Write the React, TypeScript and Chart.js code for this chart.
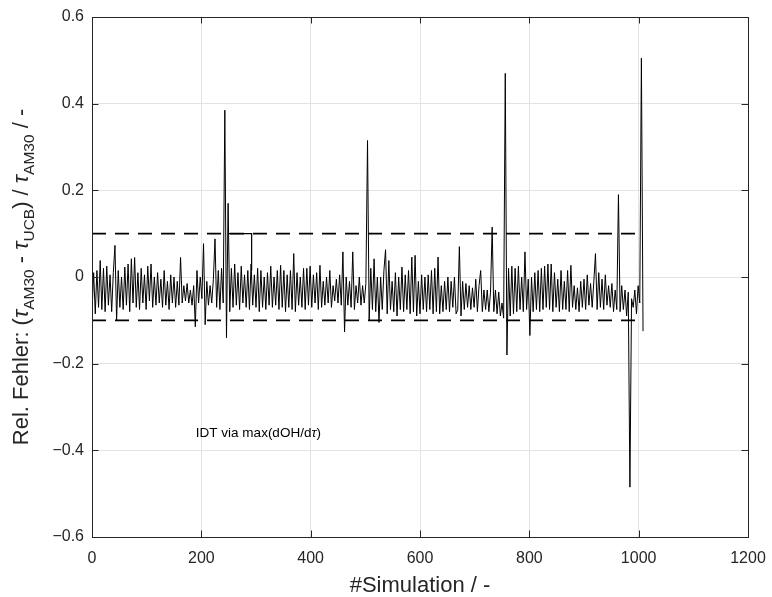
import React, { useEffect, useRef } from "react";
import { Chart, registerables } from "chart.js";

Chart.register(...registerables);

// Relative error, one sample every SIM_STEP simulations
const SIM_STEP = 3;
const relErr: number[] = [
  -0.08, 0.01, -0.085, 0.015, -0.07, 0.038, -0.075, 0.02, -0.08, 0.025,
  -0.065, 0.005, -0.08, 0.01, 0.073, -0.1, 0.015, -0.07, 0.0, -0.075,
  0.023, -0.065, 0.03, -0.08, 0.042, -0.06, 0.045, -0.07, 0.01, -0.075,
  0.02, -0.06, 0.005, -0.075, 0.025, -0.055, 0.03, -0.07, 0.0, -0.065,
  0.01, -0.06, -0.005, -0.07, 0.015, -0.065, -0.01, -0.075, 0.005, -0.06,
  0.0, -0.07, -0.01, -0.065, 0.045, -0.06, -0.02, -0.055, -0.015, -0.06,
  -0.03, -0.065, -0.02, -0.115, 0.015, -0.06, 0.0, -0.05, 0.077, -0.11,
  -0.01, -0.065, -0.02, -0.06, -0.005, 0.088, -0.07, 0.015, -0.075, 0.02,
  -0.06, 0.385, -0.14, 0.17, -0.08, 0.02, -0.07, 0.03, -0.065, 0.01,
  -0.075, 0.025, -0.06, 0.005, -0.07, 0.015, -0.075, 0.03, -0.065, 0.005,
  -0.07, 0.02, -0.08, 0.015, -0.07, 0.0, -0.075, 0.01, -0.065, 0.025,
  -0.07, 0.0, -0.065, 0.015, -0.075, 0.027, -0.07, 0.015, -0.08, 0.005,
  -0.07, 0.015, -0.075, 0.054, -0.08, 0.01, -0.065, 0.0, -0.07, 0.02,
  -0.075, 0.02, -0.065, 0.025, -0.07, 0.005, -0.06, 0.01, -0.075, 0.027,
  -0.07, -0.01, -0.065, 0.0, -0.06, 0.015, -0.07, -0.02, -0.055, -0.005,
  -0.06, 0.005, -0.065, 0.058, -0.127, 0.0, -0.065, -0.01, -0.07, 0.058,
  -0.075, -0.02, -0.06, 0.0, -0.065, -0.02, -0.06, -0.015, 0.315, -0.1,
  0.02, -0.075, 0.042, -0.08, 0.0, -0.105, 0.0, -0.075, 0.015, 0.063,
  -0.085, 0.038, -0.075, -0.01, -0.08, 0.01, -0.09, 0.0, -0.075, 0.023,
  -0.08, 0.005, -0.075, 0.015, -0.085, 0.046, -0.08, 0.05, -0.09, -0.01,
  -0.085, 0.005, -0.075, 0.0, -0.08, 0.005, -0.075, 0.015, -0.085, 0.02,
  -0.08, 0.046, -0.085, -0.02, -0.08, -0.01, -0.075, 0.0, -0.08, -0.01,
  -0.07, 0.0, -0.085, -0.075, 0.07, -0.09, -0.01, -0.075, -0.015, -0.07,
  -0.02, -0.075, -0.025, -0.07, -0.005, -0.08, -0.02, 0.015, -0.08, -0.03,
  -0.075, -0.03, -0.08, -0.035, 0.115, -0.08, -0.03, -0.085, -0.035, -0.09,
  -0.06, -0.095, 0.47, -0.18, 0.02, -0.09, 0.025, -0.085, 0.02, -0.08,
  0.025, -0.075, 0.0, -0.08, 0.058, -0.075, -0.005, -0.135, 0.0, -0.08,
  0.01, -0.075, 0.015, -0.08, 0.02, -0.075, 0.025, -0.07, 0.03, -0.075,
  0.03, -0.08, 0.01, -0.07, -0.005, -0.08, 0.015, -0.075, -0.01, -0.075,
  0.015, -0.08, 0.027, -0.07, -0.02, -0.075, -0.025, -0.08, -0.01, -0.07,
  -0.005, -0.075, 0.005, -0.065, -0.015, -0.07, -0.01, 0.054, -0.075, 0.01,
  -0.07, -0.005, -0.075, 0.005, -0.065, -0.02, -0.07, -0.015, -0.08, -0.03,
  -0.075, 0.19, -0.08, -0.02, -0.075, -0.03, -0.09, -0.035, -0.485, -0.05,
  -0.07, -0.03, -0.085, -0.02, -0.06, 0.505, -0.125,
];
const simulation: number[] = relErr.map((_, i) => i * SIM_STEP);

// Tolerance band (dashed)
const limitX = [0, 1000];
const upperLimit = 0.1;
const lowerLimit = -0.1;

// Solid segment lying on the upper limit
const overlayX = [250, 292, 292];
const overlayY = [0.1, 0.1, 0.015];

const xTickValues = [0, 200, 400, 600, 800, 1000, 1200];
const yTickValues = [-0.6, -0.4, -0.2, 0, 0.2, 0.4, 0.6];

const FONT = "'Liberation Sans', Arial, Helvetica, sans-serif";
const AXIS_COLOR = "#262626";
const GRID_COLOR = "#e3e3e3";

type Seg = { t: string; sub?: boolean; it?: boolean };

function drawSegs(ctx: CanvasRenderingContext2D, segs: Seg[], size: number, subSize: number, align: "left" | "center") {
  const fontOf = (s: Seg) => `${s.it ? "italic " : ""}${s.sub ? subSize : size}px ${FONT}`;
  let total = 0;
  for (const s of segs) {
    ctx.font = fontOf(s);
    total += ctx.measureText(s.t).width;
  }
  let x = align === "center" ? -total / 2 : 0;
  ctx.textBaseline = "middle";
  ctx.textAlign = "left";
  for (const s of segs) {
    ctx.font = fontOf(s);
    ctx.fillText(s.t, x, s.sub ? size * 0.36 : 0);
    x += ctx.measureText(s.t).width;
  }
}

const decorPlugin = {
  id: "decor",
  afterDraw(chart: any) {
    const { ctx, chartArea: a, scales } = chart;
    const xs = scales.x;
    const ys = scales.y;
    ctx.save();
    // inward ticks
    ctx.strokeStyle = AXIS_COLOR;
    ctx.lineWidth = 1;
    const tl = 6.5;
    ctx.beginPath();
    for (const v of xTickValues) {
      const px = Math.round(xs.getPixelForValue(v)) + 0.5;
      ctx.moveTo(px, a.bottom);
      ctx.lineTo(px, a.bottom - tl);
      ctx.moveTo(px, a.top);
      ctx.lineTo(px, a.top + tl);
    }
    for (const v of yTickValues) {
      const py = Math.round(ys.getPixelForValue(v)) + 0.5;
      ctx.moveTo(a.left, py);
      ctx.lineTo(a.left + tl, py);
      ctx.moveTo(a.right, py);
      ctx.lineTo(a.right - tl, py);
    }
    ctx.stroke();
    // box
    ctx.strokeRect(Math.round(a.left) + 0.5, Math.round(a.top) + 0.5, Math.round(a.right - a.left), Math.round(a.bottom - a.top));

    ctx.fillStyle = AXIS_COLOR;
    // x label
    ctx.save();
    ctx.translate((a.left + a.right) / 2, 586);
    drawSegs(ctx, [{ t: "#Simulation / -" }], 22, 15, "center");
    ctx.restore();
    // y label
    ctx.save();
    ctx.translate(22, (a.top + a.bottom) / 2);
    ctx.rotate(-Math.PI / 2);
    drawSegs(
      ctx,
      [
        { t: "Rel. Fehler: (" },
        { t: "τ", it: true },
        { t: "AM30", sub: true },
        { t: " - " },
        { t: "τ", it: true },
        { t: "UCB", sub: true },
        { t: ") / " },
        { t: "τ", it: true },
        { t: "AM30", sub: true },
        { t: " / -" },
      ],
      22,
      15.5,
      "center"
    );
    ctx.restore();
    // annotation
    ctx.save();
    ctx.translate(xs.getPixelForValue(190), ys.getPixelForValue(-0.36));
    ctx.fillStyle = "#000000";
    drawSegs(ctx, [{ t: "IDT via max(dOH/d" }, { t: "τ", it: true }, { t: ")" }], 13.5, 10, "left");
    ctx.restore();
    ctx.restore();
  },
};

export default function App() {
  const ref = useRef<HTMLCanvasElement | null>(null);
  useEffect(() => {
    if (!ref.current) return;
    const chart = new Chart(ref.current, {
      type: "line",
      data: {
        datasets: [
          {
            label: "rel. Fehler",
            data: simulation.map((x, i) => ({ x, y: relErr[i] })),
            borderColor: "#000000",
            borderWidth: 1,
            pointRadius: 0,
            tension: 0,
          },
          {
            label: "upper",
            data: limitX.map((x) => ({ x, y: upperLimit })),
            borderColor: "#000000",
            borderWidth: 1.8,
            borderDash: [14, 9],
            pointRadius: 0,
          },
          {
            label: "lower",
            data: limitX.map((x) => ({ x, y: lowerLimit })),
            borderColor: "#000000",
            borderWidth: 1.8,
            borderDash: [14, 9],
            pointRadius: 0,
          },
          {
            label: "overlay",
            data: overlayX.map((x, i) => ({ x, y: overlayY[i] })),
            borderColor: "#000000",
            borderWidth: 1.2,
            pointRadius: 0,
          },
        ],
      },
      options: {
        animation: false,
        responsive: false,
        maintainAspectRatio: false,
        layout: { padding: { left: 0, right: 24, top: 17, bottom: 0 } },
        plugins: { legend: { display: false }, tooltip: { enabled: false } },
        scales: {
          x: {
            type: "linear",
            min: 0,
            max: 1200,
            afterBuildTicks: (s: any) => {
              s.ticks = xTickValues.map((v) => ({ value: v }));
            },
            afterFit: (s: any) => {
              s.height = 60;
              s.paddingLeft = 0;
              s.paddingRight = 0;
            },
            ticks: {
              color: AXIS_COLOR,
              font: { family: FONT, size: 16 },
              padding: 12,
              maxRotation: 0,
              callback: (v: any) => String(v),
            },
            grid: { color: GRID_COLOR, drawTicks: false, lineWidth: 1 },
            border: { display: false },
          },
          y: {
            type: "linear",
            min: -0.6,
            max: 0.6,
            afterBuildTicks: (s: any) => {
              s.ticks = yTickValues.map((v) => ({ value: v }));
            },
            afterFit: (s: any) => {
              s.width = 92;
              s.paddingTop = 0;
              s.paddingBottom = 0;
            },
            ticks: {
              color: AXIS_COLOR,
              font: { family: FONT, size: 16 },
              padding: 8,
              callback: (v: any) => String(Number(Number(v).toFixed(1))).replace("-", "\u2212"),
            },
            grid: { color: GRID_COLOR, drawTicks: false, lineWidth: 1 },
            border: { display: false },
          },
        },
      },
      plugins: [decorPlugin],
    });
    return () => chart.destroy();
  }, []);
  return (
    <div style={{ position: "fixed", left: 0, top: 0, width: 772, height: 597, background: "#ffffff" }}>
      <canvas ref={ref} width={772} height={597} style={{ width: 772, height: 597, display: "block" }} />
    </div>
  );
}
